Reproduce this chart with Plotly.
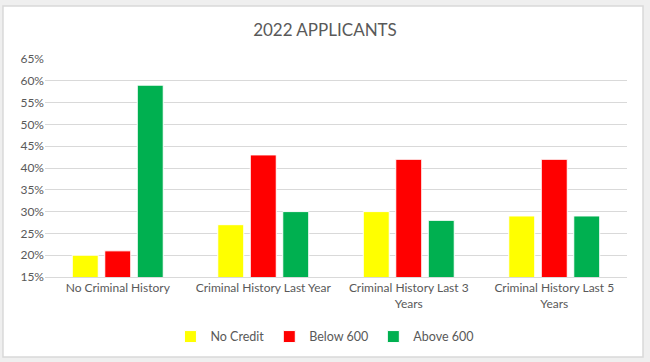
import plotly.graph_objects as go

categories = ["No Criminal History", "Criminal History Last Year",
              "Criminal History Last 3<br>Years", "Criminal History Last 5<br>Years"]
no_credit = [20, 27, 30, 29]
below_600 = [21, 43, 42, 42]
above_600 = [59, 30, 28, 29]
tick_vals = [15, 20, 25, 30, 35, 40, 45, 50, 55, 60, 65]
tick_text = [f"{v}%" for v in tick_vals]

series = [("No Credit", no_credit, "#FFFF00"),
          ("Below 600", below_600, "#FF0000"),
          ("Above 600", above_600, "#00B050")]

fig = go.Figure()
for name, vals, col in series:
    fig.add_trace(go.Bar(x=categories, y=vals, name=name, marker_color=col,
                         marker_line_color="white", marker_line_width=1))

FONT = "Lato, 'Open Sans', sans-serif"
fig.update_layout(
    width=650, height=362, autosize=False,
    margin=dict(l=45, r=23, t=59, b=85, autoexpand=False),
    paper_bgcolor="#EFEFEF", plot_bgcolor="rgba(0,0,0,0)",
    barmode="group", bargap=0.33, bargroupgap=0.2,
    font=dict(family=FONT, color="#595959", size=12),
    title=dict(text="2022 APPLICANTS", x=0.5, xref="container", xanchor="center",
               y=0.917, yref="container", yanchor="middle",
               font=dict(size=17, color="#595959", family=FONT)),
    legend=dict(orientation="h", x=0.481, xanchor="center",
                y=-0.275, yanchor="middle", font=dict(size=12.5, color="#595959"),
                traceorder="normal", itemwidth=30, bgcolor="rgba(0,0,0,0)"),
    showlegend=True,
)
fig.update_yaxes(range=[15, 65], tickvals=tick_vals, ticktext=tick_text,
                 showgrid=True, gridcolor="#D9D9D9", gridwidth=1,
                 zeroline=False, showline=False, ticks="", fixedrange=True,
                 automargin=False)
fig.update_xaxes(showgrid=False, showline=True, linecolor="#D9D9D9", linewidth=1,
                 ticks="", tickangle=0, automargin=False,
                 tickfont=dict(size=12, color="#595959"))
fig.add_shape(type="rect", xref="paper", yref="paper",
              x0=-0.0722, x1=1.0275, y0=-0.367, y1=1.243,
              line=dict(color="#D9D9D9", width=1.5), fillcolor="white", layer="below")
fig.write_html("out.html", config={"displayModeBar": False},
               post_script="document.body.style.margin='0';document.body.style.padding='0';")
